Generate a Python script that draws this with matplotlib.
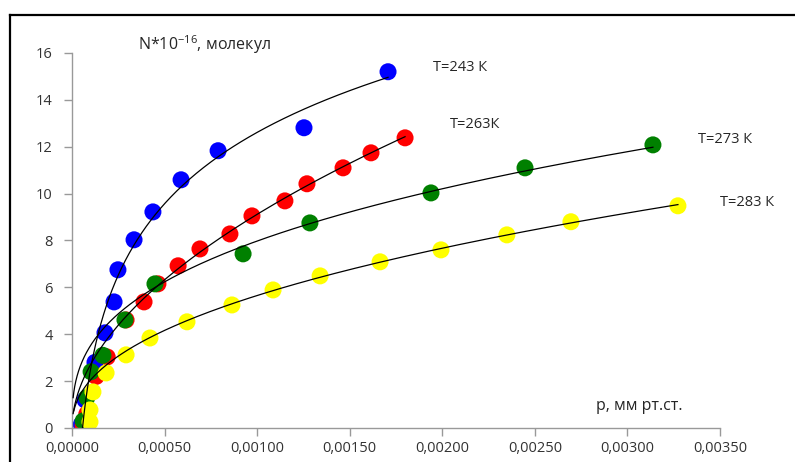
"""Изотермы адсорбции N(p) при четырёх температурах с линиями тренда."""
import matplotlib.pyplot as plt
import numpy as np
from matplotlib.lines import Line2D
from matplotlib.ticker import FuncFormatter, MultipleLocator

plt.rcParams["font.family"] = ["Open Sans", "DejaVu Sans"]
plt.rcParams["mathtext.default"] = "regular"

# p, мм рт.ст. / N*10^-16 для каждой температуры
P_243 = [0.00005, 0.00007, 0.000124, 0.000178, 0.000227, 0.000248, 0.000335,
         0.000437, 0.000589, 0.000789, 0.001253, 0.001707]
N_243 = [0.15, 1.2, 2.8, 4.06, 5.38, 6.75, 8.03, 9.22, 10.59, 11.83, 12.81, 15.2]

P_263 = [0.00006, 0.00008, 0.00013, 0.00019, 0.000292, 0.000389, 0.000464,
         0.000573, 0.000691, 0.000853, 0.000972, 0.00115, 0.001269, 0.001464,
         0.001615, 0.001799]
N_263 = [0.1, 0.6, 2.2, 3.03, 4.61, 5.38, 6.15, 6.92, 7.64, 8.28, 9.05, 9.69,
         10.42, 11.1, 11.74, 12.38]

P_273 = [0.00006, 0.00008, 0.000103, 0.000167, 0.000286, 0.000448, 0.000924,
         0.001285, 0.001939, 0.002447, 0.003138]
N_273 = [0.3, 1.3, 2.4, 3.1, 4.61, 6.15, 7.43, 8.75, 10.03, 11.1, 12.08]

P_283 = [0.000097, 0.000097, 0.000113, 0.000184, 0.000292, 0.000421, 0.000621,
         0.000864, 0.001086, 0.00134, 0.001664, 0.001993, 0.002349, 0.002695,
         0.003273]
N_283 = [0.26, 0.77, 1.54, 2.35, 3.12, 3.84, 4.53, 5.25, 5.89, 6.49, 7.09, 7.6,
         8.24, 8.8, 9.48]

# подпись, данные, цвет, тип линии тренда
SERIES = [
    ("T=243 К", P_243, N_243, "#0000ff", "log"),
    ("T=263К", P_263, N_263, "#ff0000", "power"),
    ("T=273 К", P_273, N_273, "#008000", "power"),
    ("T=283 К", P_283, N_283, "#ffff00", "power"),
]
LABEL_POS = [(0.00195, 15.4), (0.00204, 12.95), (0.00338, 12.3), (0.00350, 9.6)]


def trend(p, n, kind):
    """Линия тренда как в Excel: логарифмическая или степенная (МНК в логарифмах)."""
    p, n = np.asarray(p), np.asarray(n)
    keep = n > 5.0
    if kind == "log":
        a, b = np.polyfit(np.log(p[keep]), n[keep], 1)
        x0 = np.exp(-b / a)  # где линия пересекает N = 0
        xs = np.geomspace(x0, p.max(), 300)
        return xs, a * np.log(xs) + b
    b, ln_a = np.polyfit(np.log(p[keep]), np.log(n[keep]), 1)
    xs = np.geomspace(p.min() * 0.1, p.max(), 300)
    return xs, np.exp(ln_a) * xs ** b


def main() -> None:
    fig = plt.figure(figsize=(7.95, 4.62), dpi=100)
    ax = fig.add_axes([0.0906, 0.0736, 0.815, 0.8117])

    for _, p, n, color, _ in SERIES:
        ax.scatter(p, n, s=150, color=color, edgecolors="none", zorder=2)
    for _, p, n, _, kind in SERIES:
        xs, ys = trend(p, n, kind)
        ax.plot(xs, ys, color="black", lw=0.9, zorder=3)

    for (label, *_), (x, y) in zip(SERIES, LABEL_POS):
        ax.text(x, y, label, fontsize=10.5, color="#262626", va="center",
                clip_on=False)

    ax.text(0.000357, 16.35, "N*10$^{-16}$, молекул", fontsize=11.5,
            color="#262626", va="center", clip_on=False)
    ax.text(0.00283, 0.94, "p, мм рт.ст.", fontsize=11.5, color="#262626",
            va="center")

    ax.set_xlim(0, 0.0035)
    ax.set_ylim(0, 16)
    ax.xaxis.set_major_locator(MultipleLocator(0.0005))
    ax.yaxis.set_major_locator(MultipleLocator(2))
    ax.xaxis.set_major_formatter(FuncFormatter(lambda v, _: f"{v:.5f}".replace(".", ",")))
    ax.tick_params(colors="#999999", labelcolor="#333333", labelsize=10.5,
                   length=6, width=1, direction="out")
    ax.tick_params(axis="y", pad=8)
    for side in ("top", "right"):
        ax.spines[side].set_visible(False)
    for side in ("left", "bottom"):
        ax.spines[side].set_color("#999999")
        ax.spines[side].set_linewidth(1)

    # рамка области диаграммы (обрезана справа и снизу)
    fig.add_artist(Line2D([10 / 795, 10 / 795], [0, 1 - 15 / 462], color="black", lw=1.6))
    fig.add_artist(Line2D([10 / 795, 1], [1 - 15 / 462, 1 - 15 / 462], color="black", lw=1.6))

    fig.savefig("out.png", dpi=100)
    plt.close(fig)


if __name__ == "__main__":
    main()
